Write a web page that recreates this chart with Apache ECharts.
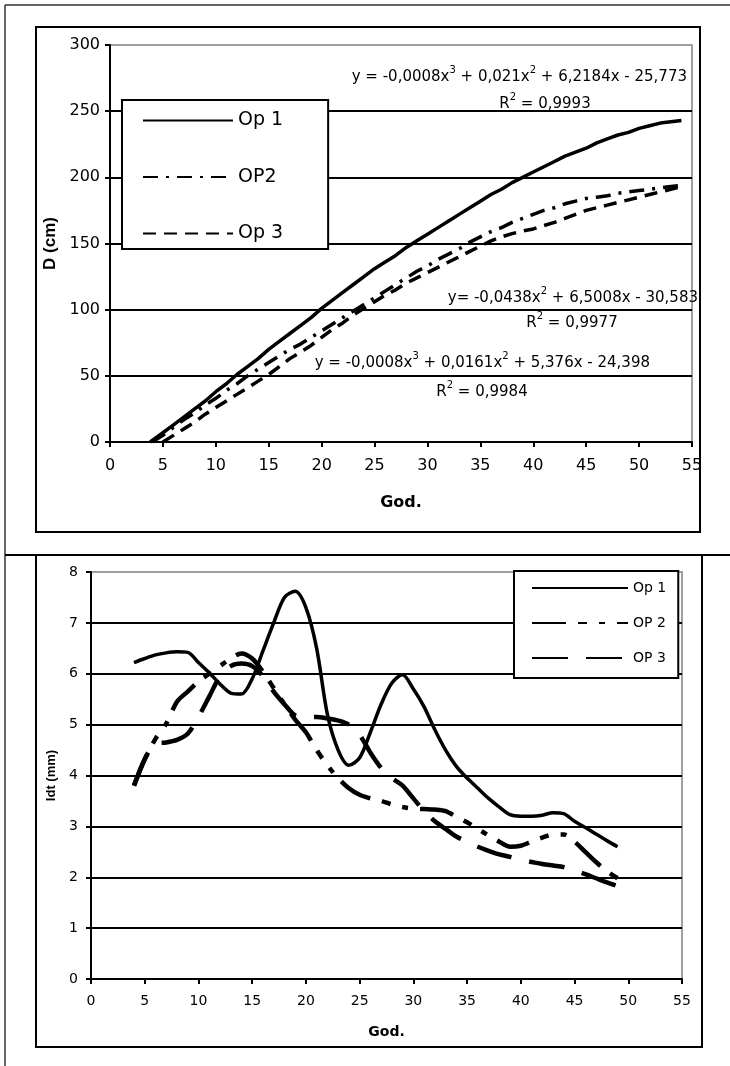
<!DOCTYPE html>
<html>
<head>
<meta charset="utf-8">
<title>D i Idt</title>
<script src="https://cdn.jsdelivr.net/npm/echarts@6/dist/echarts.min.js"></script>
<style>
    html, body { margin: 0; padding: 0; background: #fff; }
    #chart { width: 730px; height: 1066px; }
</style>
</head>
<body>
<div id="chart"></div>
<script>
// gornji grafikon: D (cm) po godinama
var dOp1 = [[3.8,0],[5,7],[6,13],[7,19],[8,25],[9,31],[10,38],[11,44],[12,51],[13,57],[14,63],[15,70],[16,76],[17,82],[18,88],[19,94],[20,101],[21,107],[22,113],[23,119],[24,125],[25,131],[26,136],[27,141],[28,147],[29,152],[30,157],[31,162],[32,167],[33,172],[34,177],[35,182],[36,187],[37,191],[38,196],[39,200],[40,204],[41,208],[42,212],[43,216],[44,219],[45,222],[46,226],[47,229],[48,232],[49,234],[50,237],[51,239],[52,241],[53,242],[54,243]];
var dOp2 = [[4,0],[5,5],[6,11],[7,17],[8,22],[9,28],[10,33],[11,39],[12,44],[13,50],[14,55],[15,60],[16,65],[17,70],[18,74],[19,79],[20,84],[21,89],[22,94],[23,99],[24,104],[25,109],[26,114],[27,119],[28,124],[29,129],[30,133],[31,138],[32,142],[33,146],[34,151],[35,155],[36,159],[37,162],[38,166],[39,169],[40,172],[41,175],[42,177],[43,180],[44,182],[45,184],[46,185],[47,186],[48,188],[49,189],[50,190],[51,191],[52,192],[53,193],[54,194]];
var dOp3 = [[5,0],[6,5],[7,10],[8,15],[9,21],[10,26],[11,31],[12,36],[13,41],[14,46],[15,51],[16,57],[17,63],[18,68],[19,73],[20,79],[21,85],[22,90],[23,96],[24,101],[25,106],[26,111],[27,115],[28,120],[29,124],[30,128],[31,132],[32,136],[33,140],[34,144],[35,148],[36,152],[37,155],[38,157.5],[39,159.5],[40,161],[41,163.5],[42,166],[43,169],[44,172],[45,175],[46,177],[47,179],[48,181],[49,183],[50,185],[51,187],[52,189],[53,191],[54,193]];

// donji grafikon: Idt (mm) po godinama
var idtYears = [4,5,6,7,8,9,10,11,12,13,14,15,16,17,18,19,20,21,22,23,24,25,26,27,28,29,30,31,32,33,34,35,36,37,38,39,40,41,42,43,44,45,46,47,48,49];
var idtOp1 = [6.22,6.3,6.37,6.41,6.43,6.42,6.22,6.02,5.8,5.62,5.6,5.9,6.45,7.0,7.5,7.62,7.3,6.5,5.2,4.5,4.2,4.35,4.85,5.4,5.82,5.98,5.7,5.35,4.9,4.5,4.18,3.95,3.75,3.55,3.38,3.23,3.2,3.2,3.22,3.27,3.25,3.1,2.98,2.85,2.72,2.6];
var idtOp2 = [3.8,4.32,4.72,5.02,5.45,5.65,5.85,6.0,6.15,6.3,6.4,6.3,6.04,5.72,5.4,5.1,4.85,4.5,4.2,3.95,3.75,3.62,3.55,3.5,3.43,3.38,3.35,3.34,3.33,3.3,3.19,3.08,2.95,2.82,2.7,2.6,2.62,2.7,2.78,2.84,2.84,2.7,2.5,2.3,2.12,1.98];
var idtOp3 = [3.8,4.32,4.63,4.65,4.7,4.82,5.15,5.55,5.95,6.15,6.2,6.15,5.95,5.65,5.4,5.18,5.14,5.15,5.12,5.08,5.0,4.8,4.45,4.15,3.95,3.8,3.55,3.3,3.1,2.95,2.8,2.7,2.6,2.52,2.45,2.4,2.34,2.3,2.26,2.23,2.2,2.13,2.06,1.98,1.9,1.83];

var dNames = ['Op 1', 'OP2', 'Op 3'];
var idtNames = ['Op 1', 'OP 2', 'OP 3'];
var xTicks = [0, 55, 5];
var dTicks = [0, 300, 50];
var idtTicks = [0, 8, 1];

var FONT_H = '"DejaVu Sans", sans-serif';
var FONT_V = '"Liberation Sans", Arial, sans-serif';

function pairs(xs, ys){
    return xs.map(function(x, i){ return [x, ys[i]]; });
}

function GrowthCharts(){
    this.chart = null;
}
GrowthCharts.prototype.init = function(){
    this.chart = echarts.init(document.getElementById('chart'));
    this.chart.setOption(this.buildOption(), true);
}
GrowthCharts.prototype.valueAxis = function(grid, ticks, fontSize, margin){
    return {
        gridIndex: grid,
        type: 'value',
        min: ticks[0],
        max: ticks[1],
        interval: ticks[2],
        axisLine: { show: true, onZero: false, lineStyle: { color: '#000', width: 2 } },
        axisTick: { show: true, length: 5, lineStyle: { color: '#000', width: 2 } },
        axisLabel: { color: '#000', fontFamily: FONT_H, fontSize: fontSize, margin: margin },
        nameLocation: 'middle',
        nameTextStyle: { color: '#000', fontWeight: 'bold' }
    };
}
GrowthCharts.prototype.buildOption = function(){
    var x0 = this.valueAxis(0, xTicks, 16, 16);
    x0.name = 'God.'; x0.nameGap = 53;
    x0.nameTextStyle.fontFamily = FONT_H; x0.nameTextStyle.fontSize = 16;
    x0.splitLine = { show: false };
    var x1 = this.valueAxis(1, xTicks, 14, 15);
    x1.name = 'God.'; x1.nameGap = 46;
    x1.nameTextStyle.fontFamily = FONT_H; x1.nameTextStyle.fontSize = 14;
    x1.splitLine = { show: false };

    var y0 = this.valueAxis(0, dTicks, 16, 10);
    y0.name = 'D (cm)'; y0.nameGap = 47;
    y0.nameTextStyle.fontFamily = FONT_V; y0.nameTextStyle.fontSize = 17;
    y0.splitLine = { show: true, lineStyle: { color: ['#000','#000','#000','#000','#000','#000','#a0a0a0'], width: 2 } };
    var y1 = this.valueAxis(1, idtTicks, 14, 13);
    y1.name = 'Idt (mm)'; y1.nameGap = 31;
    y1.nameTextStyle.fontFamily = FONT_V; y1.nameTextStyle.fontSize = 13;
    y1.splitLine = { show: true, lineStyle: { color: ['#000','#000','#000','#000','#000','#000','#000','#000','#a0a0a0'], width: 2 } };

    var sup = { fontSize: 10, lineHeight: 12, verticalAlign: 'top', fontFamily: FONT_H, fill: '#000' };
    function eq(text, x, y, align){
        return {
            type: 'text', x: x, y: y, z: 50,
            style: {
                text: text, fill: '#000', fontFamily: FONT_H, fontSize: 15, lineHeight: 24,
                align: align, verticalAlign: 'middle', rich: { s: sup }
            }
        };
    }

    var option = {
        animation: false,
        backgroundColor: '#fff',
        grid: [
            { left: 110, top: 45, width: 582, height: 397, show: true, borderColor: '#a0a0a0', borderWidth: 2, outerBoundsMode: 'none' },
            { left: 91, top: 572, width: 591, height: 407, show: true, borderColor: '#a0a0a0', borderWidth: 2, outerBoundsMode: 'none' }
        ],
        xAxis: [x0, x1],
        yAxis: [y0, y1],
        legend: [{
            data: dNames,
            orient: 'vertical',
            left: 122, top: 100,
            padding: [11, 45, 6, 20],
            itemWidth: 90, itemHeight: 20, itemGap: 37.5,
            backgroundColor: '#fff', borderColor: '#000', borderWidth: 2,
            itemStyle: { opacity: 0 },
            textStyle: { color: '#000', fontFamily: FONT_H, fontSize: 19 }
        }, {
            data: idtNames,
            orient: 'vertical',
            left: 514, top: 571,
            padding: [10, 12, 13, 17],
            itemWidth: 96, itemHeight: 14, itemGap: 21,
            backgroundColor: '#fff', borderColor: '#000', borderWidth: 2,
            itemStyle: { opacity: 0 },
            textStyle: { color: '#000', fontFamily: FONT_H, fontSize: 14 }
        }],
        graphic: [
            { type: 'line', shape: { x1: 5, y1: 5, x2: 730, y2: 5 }, style: { stroke: '#333', lineWidth: 1.5 } },
            { type: 'line', shape: { x1: 5, y1: 5, x2: 5, y2: 1066 }, style: { stroke: '#333', lineWidth: 1.5 } },
            { type: 'line', shape: { x1: 5, y1: 555, x2: 730, y2: 555 }, style: { stroke: '#000', lineWidth: 2 } },
            { type: 'rect', shape: { x: 36, y: 27, width: 664, height: 505 }, style: { fill: 'none', stroke: '#000', lineWidth: 2 } },
            { type: 'rect', shape: { x: 36, y: 555, width: 666, height: 492 }, style: { fill: 'none', stroke: '#000', lineWidth: 2 } },
            eq('y = -0,0008x{s|3} + 0,021x{s|2} + 6,2184x - 25,773', 687, 77, 'right'),
            eq('R{s|2} = 0,9993', 545, 104, 'center'),
            eq('y= -0,0438x{s|2} + 6,5008x - 30,583', 698, 298, 'right'),
            eq('R{s|2} = 0,9977', 572, 323, 'center'),
            eq('y = -0,0008x{s|3} + 0,0161x{s|2} + 5,376x - 24,398', 650, 363, 'right'),
            eq('R{s|2} = 0,9984', 482, 392, 'center')
        ],
        series: [{
            name: dNames[0], type: 'line', xAxisIndex: 0, yAxisIndex: 0,
            data: dOp1, symbol: 'none',
            lineStyle: { color: '#000', width: 3.5, type: 'solid' }
        }, {
            name: dNames[1], type: 'line', xAxisIndex: 0, yAxisIndex: 0,
            data: dOp2, symbol: 'none',
            lineStyle: { color: '#000', width: 3.5, type: [15, 8, 3, 8] }
        }, {
            name: dNames[2], type: 'line', xAxisIndex: 0, yAxisIndex: 0,
            data: dOp3, symbol: 'none',
            lineStyle: { color: '#000', width: 3.5, type: [13, 8] }
        }, {
            name: idtNames[0], type: 'line', xAxisIndex: 1, yAxisIndex: 1,
            data: pairs(idtYears, idtOp1), symbol: 'none', smooth: 0.3,
            lineStyle: { color: '#000', width: 3.5, type: 'solid' }
        }, {
            name: idtNames[1], type: 'line', xAxisIndex: 1, yAxisIndex: 1,
            data: pairs(idtYears, idtOp2), symbol: 'none', smooth: 0.3,
            lineStyle: { color: '#000', width: 4.5, type: [34, 12, 9, 12, 6, 12] }
        }, {
            name: idtNames[2], type: 'line', xAxisIndex: 1, yAxisIndex: 1,
            data: pairs(idtYears, idtOp3), symbol: 'none', smooth: 0.3,
            lineStyle: { color: '#000', width: 4.5, type: [36, 18] }
        }]
    };
    return option;
}

var start_growth = new GrowthCharts();
start_growth.init();
</script>
</body>
</html>
